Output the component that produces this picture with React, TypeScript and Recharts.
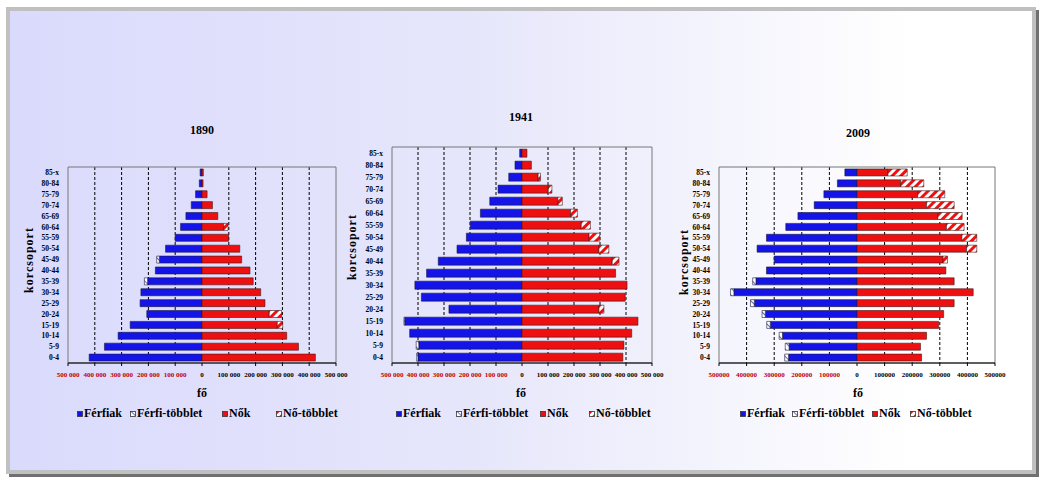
import React from 'react';
import { BarChart, Bar, XAxis, YAxis, CartesianGrid, ReferenceArea } from 'recharts';

const ages = ['0-4', '5-9', '10-14', '15-19', '20-24', '25-29', '30-34', '35-39', '40-44', '45-49', '50-54', '55-59', '60-64', '65-69', '70-74', '75-79', '80-84', '85-x'];

// 1890
const ferfiak1890 = [421000, 364000, 313000, 268000, 206000, 231000, 228000, 203000, 174000, 159000, 136000, 100000, 80000, 60000, 40000, 24000, 10000, 7000];
const ferfiTobblet1890 = [0, 0, 0, 0, 0, 0, 0, 12000, 0, 10000, 0, 0, 0, 0, 0, 0, 0, 0];
const nok1890 = [423000, 360000, 316000, 281000, 251000, 235000, 219000, 191000, 179000, 148000, 141000, 99000, 81000, 59000, 39000, 19000, 4000, 5000];
const noTobblet1890 = [0, 0, 0, 20000, 46000, 0, 0, 0, 0, 0, 0, 0, 16000, 0, 0, 0, 0, 0];

// 1941
const ferfiak1941 = [400000, 397000, 432000, 451000, 281000, 387000, 412000, 367000, 322000, 250000, 214000, 199000, 160000, 124000, 92000, 51000, 27000, 9000];
const ferfiTobblet1941 = [5000, 10000, 0, 3000, 0, 0, 0, 0, 0, 0, 0, 0, 0, 0, 0, 0, 0, 0];
const nok1941 = [388000, 392000, 422000, 446000, 296000, 397000, 404000, 360000, 347000, 296000, 258000, 228000, 187000, 138000, 101000, 62000, 36000, 19000];
const noTobblet1941 = [0, 0, 0, 0, 19000, 0, 0, 0, 26000, 38000, 41000, 35000, 26000, 17000, 14000, 9000, 0, 0];

// 2009
const ferfiak2009 = [248000, 246000, 270000, 314000, 332000, 372000, 446000, 366000, 328000, 300000, 362000, 328000, 258000, 214000, 155000, 120000, 71000, 44000];
const ferfiTobblet2009 = [14000, 14000, 12000, 13000, 12000, 14000, 12000, 12000, 0, 0, 0, 0, 0, 0, 0, 0, 0, 0];
const nok2009 = [234000, 230000, 252000, 296000, 314000, 352000, 421000, 352000, 322000, 312000, 397000, 380000, 324000, 293000, 252000, 220000, 158000, 112000];
const noTobblet2009 = [0, 0, 0, 0, 0, 0, 0, 0, 0, 16000, 37000, 54000, 64000, 88000, 100000, 98000, 84000, 70000];

const axisTicks = [-500000, -400000, -300000, -200000, -100000, 0, 100000, 200000, 300000, 400000, 500000];
const gridValues = [-400000, -300000, -200000, -100000, 100000, 200000, 300000, 400000];
const legendNames = ['Férfiak', 'Férfi-többlet', 'Nők', 'Nő-többlet'];

const serif = '"Liberation Serif", "Times New Roman", serif';
const BLUE = '#1414e8';
const RED = '#ee1010';

const buildRows = (m: number[], mt: number[], f: number[], ft: number[]) =>
  ages.map((age, i) => ({ age, ferfiak: -m[i], ferfiTobblet: -mt[i], nok: f[i], noTobblet: ft[i] }));

const fmtSpace = (v: number) => String(Math.abs(v)).replace(/\B(?=(\d{3})+(?!\d))/g, ' ');
const fmtPlain = (v: number) => String(Math.abs(v));

const ValueTick = (props: any) => {
  const { x, y, payload, fmt } = props;
  return (
    <text x={x} y={y} dy="0.71em" textAnchor="middle" fontFamily={serif} fontWeight="bold" fontSize={7}
      fill={payload.value < 0 ? '#c00000' : '#000'}>
      {fmt(payload.value)}
    </text>
  );
};

const legendFills = [BLUE, 'url(#ferfiHatch)', RED, 'url(#noHatch)'];

const Pyramid = ({ cfg }: { cfg: any }) => {
  const rows = buildRows(cfg.m, cfg.mt, cfg.f, cfg.ft);
  const textStyle: React.CSSProperties = { position: 'absolute', fontFamily: serif, fontWeight: 'bold', color: '#000', whiteSpace: 'nowrap' };
  return (
    <>
      <div style={{ ...textStyle, left: cfg.titleX, top: cfg.titleY, fontSize: 12, transform: 'translate(-50%, -50%)' }}>{cfg.title}</div>
      <div style={{ ...textStyle, left: cfg.labelX, top: cfg.labelY, fontSize: 12, letterSpacing: 1, transform: 'translate(-50%, -50%) rotate(-90deg)' }}>korcsoport</div>
      <div style={{ ...textStyle, left: cfg.foX, top: 393, fontSize: 12, transform: 'translate(-50%, -50%)' }}>fő</div>
      <div style={{ position: 'absolute', left: cfg.left, top: cfg.top }}>
        <BarChart width={cfg.width} height={cfg.height} data={rows} layout="vertical" stackOffset="sign"
          barCategoryGap={cfg.gap} margin={{ top: 17, right: cfg.mr, left: 0, bottom: 0 }}>
          <CartesianGrid horizontal={false} verticalValues={gridValues} stroke="#000" strokeDasharray="3 2" />
          <ReferenceArea x1={-500000} x2={500000} fill="none" fillOpacity={0} stroke="#777" strokeWidth={1} />
          <XAxis type="number" domain={[-500000, 500000]} ticks={axisTicks} height={20} stroke="#000"
            tickSize={3} tickMargin={6} interval={0} tick={(p: any) => <ValueTick {...p} fmt={cfg.fmt} />} />
          <YAxis type="category" dataKey="age" reversed width={cfg.yw} axisLine={false} tickLine={false}
            tickSize={6} tickMargin={3} interval={0}
            tick={{ fontFamily: serif, fontWeight: 'bold', fontSize: 7.5, fill: '#000' }} />
          <Bar dataKey="ferfiak" name="Férfiak" stackId="a" fill={BLUE} stroke="#1a1a40" strokeWidth={0.6} isAnimationActive={false} />
          <Bar dataKey="ferfiTobblet" name="Férfi-többlet" stackId="a" fill="url(#ferfiHatch)" stroke="#1a1a40" strokeWidth={0.6} isAnimationActive={false} />
          <Bar dataKey="nok" name="Nők" stackId="a" fill={RED} stroke="#401a1a" strokeWidth={0.6} isAnimationActive={false} />
          <Bar dataKey="noTobblet" name="Nő-többlet" stackId="a" fill="url(#noHatch)" stroke="#401a1a" strokeWidth={0.6} isAnimationActive={false} />
        </BarChart>
      </div>
      {legendNames.map((name, i) => (
        <div key={name} style={{ position: 'absolute', left: cfg.legendX[i], top: 406, display: 'flex', alignItems: 'center', fontFamily: serif, fontWeight: 'bold', fontSize: 12, whiteSpace: 'nowrap' }}>
          <svg width={6} height={6} style={{ marginRight: 1 }}>
            <rect x={0.5} y={0.5} width={5} height={5} fill={legendFills[i]} stroke="#333" strokeWidth={0.8} />
          </svg>
          <span>{name}</span>
        </div>
      ))}
    </>
  );
};

const charts = [
  { title: '1890', m: ferfiak1890, mt: ferfiTobblet1890, f: nok1890, ft: noTobblet1890, fmt: fmtSpace,
    left: 20, top: 150, width: 330, height: 233, yw: 48, mr: 14, gap: '18%',
    titleX: 202, titleY: 130, labelX: 29, labelY: 260, foX: 202, legendX: [77, 130, 222, 276] },
  { title: '1941', m: ferfiak1941, mt: ferfiTobblet1941, f: nok1941, ft: noTobblet1941, fmt: fmtSpace,
    left: 340, top: 130, width: 330, height: 253, yw: 52, mr: 18, gap: '18%',
    titleX: 521, titleY: 117, labelX: 352, labelY: 247, foX: 521, legendX: [396, 456, 540, 589] },
  { title: '2009', m: ferfiak2009, mt: ferfiTobblet2009, f: nok2009, ft: noTobblet2009, fmt: fmtPlain,
    left: 670, top: 150, width: 345, height: 233, yw: 49, mr: 20, gap: '18%',
    titleX: 858, titleY: 133, labelX: 684, labelY: 262, foX: 858, legendX: [740, 792, 872, 910] },
];

export default function App() {
  return (
    <div style={{ position: 'absolute', left: 0, top: 0, width: 1039, height: 477, overflow: 'hidden', background: '#fff' }}>
      <svg width={0} height={0} style={{ position: 'absolute' }}>
        <defs>
          <pattern id="noHatch" patternUnits="userSpaceOnUse" width={6} height={6} patternTransform="rotate(45)">
            <rect width={6} height={6} fill="#fff" />
            <rect width={3} height={6} fill={RED} />
          </pattern>
          <pattern id="ferfiHatch" patternUnits="userSpaceOnUse" width={5} height={5} patternTransform="rotate(-45)">
            <rect width={5} height={5} fill="#fff" />
            <rect width={0.7} height={5} fill="#30308a" />
          </pattern>
        </defs>
      </svg>
      <div style={{ position: 'absolute', left: 6, top: 7, width: 1022, height: 459, border: '4px solid #c0c0c0', boxShadow: '3px 3px 0 #707070', background: 'linear-gradient(to right, #dadafd 0%, #e6e6fb 45%, #ffffff 88%)' }} />
      {charts.map((c) => <Pyramid key={c.title} cfg={c} />)}
    </div>
  );
}
